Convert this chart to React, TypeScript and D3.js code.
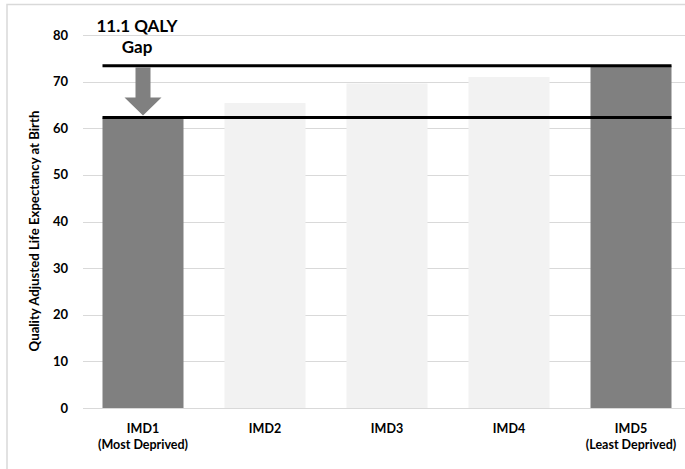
import React, { useRef, useEffect } from "react";
import * as d3 from "d3";

const categories = ["IMD1", "IMD2", "IMD3", "IMD4", "IMD5"];
const subLabels = ["(Most Deprived)", "", "", "", "(Least Deprived)"];
const qale = [62.3, 65.4, 69.6, 71.0, 73.4];
const highlighted = [true, false, false, false, true];
const yTicks = [0, 10, 20, 30, 40, 50, 60, 70, 80];

const W = 685;
const H = 469;
const FONT = "Lato, 'Open Sans', sans-serif";

const App = () => {
  const ref = useRef<SVGSVGElement | null>(null);

  useEffect(() => {
    const svg = d3.select(ref.current);
    svg.selectAll("*").remove();

    const x = d3
      .scaleBand()
      .domain(categories)
      .range([82, 692])
      .paddingInner(0.336)
      .paddingOuter(0.168);
    const y = d3.scaleLinear().domain([0, 80]).range([408, 35]);

    // chart border
    svg
      .append("rect")
      .attr("x", 7)
      .attr("y", 4.5)
      .attr("width", 700)
      .attr("height", 500)
      .attr("fill", "#fff")
      .attr("stroke", "#d9d9d9")
      .attr("stroke-width", 1.5);

    // gridlines
    svg
      .append("g")
      .selectAll("line")
      .data(yTicks)
      .enter()
      .append("line")
      .attr("x1", 83)
      .attr("x2", 692)
      .attr("y1", (d) => Math.round(y(d)) + 0.5)
      .attr("y2", (d) => Math.round(y(d)) + 0.5)
      .attr("stroke", "#d9d9d9")
      .attr("stroke-width", 1.2);

    // y tick labels
    svg
      .append("g")
      .selectAll("text")
      .data(yTicks)
      .enter()
      .append("text")
      .attr("x", 68)
      .attr("y", (d) => y(d))
      .attr("dy", "0.35em")
      .attr("text-anchor", "end")
      .attr("font-family", FONT)
      .attr("font-weight", "bold")
      .attr("font-size", 13)
      .attr("fill", "#000")
      .text((d) => d);

    // y axis title
    svg
      .append("text")
      .attr("transform", "translate(39,231) rotate(-90)")
      .attr("text-anchor", "middle")
      .attr("font-family", FONT)
      .attr("font-weight", "bold")
      .attr("font-size", 13.2)
      .attr("fill", "#000")
      .text("Quality Adjusted Life Expectancy at Birth");

    // bars
    svg
      .append("g")
      .selectAll("rect")
      .data(categories)
      .enter()
      .append("rect")
      .attr("x", (d) => x(d)!)
      .attr("width", x.bandwidth())
      .attr("y", (d, i) => y(qale[i]))
      .attr("height", (d, i) => y(0) - y(qale[i]))
      .attr("fill", (d, i) => (highlighted[i] ? "#808080" : "#f2f2f2"));

    // x labels
    const xl = svg
      .append("g")
      .selectAll("g")
      .data(categories)
      .enter()
      .append("g")
      .attr("transform", (d) => `translate(${x(d)! + x.bandwidth() / 2},0)`);
    xl.append("text")
      .attr("y", 433)
      .attr("text-anchor", "middle")
      .attr("font-family", FONT)
      .attr("font-weight", "bold")
      .attr("font-size", 12.5)
      .text((d) => d);
    xl.append("text")
      .attr("y", 449)
      .attr("text-anchor", "middle")
      .attr("font-family", FONT)
      .attr("font-weight", "bold")
      .attr("font-size", 12.5)
      .text((d, i) => subLabels[i]);

    // gap reference lines
    const low = qale[0];
    const high = qale[qale.length - 1];
    const x0 = x(categories[0])!;
    const x1 = x(categories[categories.length - 1])! + x.bandwidth();
    [high, low].forEach((v) => {
      svg
        .append("line")
        .attr("x1", x0)
        .attr("x2", x1)
        .attr("y1", y(v))
        .attr("y2", y(v))
        .attr("stroke", "#000")
        .attr("stroke-width", 3);
    });

    // arrow
    const cx = x(categories[0])! + x.bandwidth() / 2;
    const top = y(high) + 1.5;
    const tip = y(low) - 2;
    const headH = 18;
    const shaft = 7.5;
    const head = 18.5;
    const arrow = d3.path();
    arrow.moveTo(cx - shaft, top);
    arrow.lineTo(cx + shaft, top);
    arrow.lineTo(cx + shaft, tip - headH);
    arrow.lineTo(cx + head, tip - headH);
    arrow.lineTo(cx, tip);
    arrow.lineTo(cx - head, tip - headH);
    arrow.lineTo(cx - shaft, tip - headH);
    arrow.closePath();
    svg.append("path").attr("d", arrow.toString()).attr("fill", "#808080");

    // annotation
    const ann = svg
      .append("text")
      .attr("text-anchor", "middle")
      .attr("font-family", FONT)
      .attr("font-weight", "bold")
      .attr("font-size", 17)
      .attr("fill", "#000");
    ann.append("tspan").attr("x", 137).attr("y", 32).text(`${(high - low).toFixed(1)} QALY`);
    ann.append("tspan").attr("x", 137).attr("y", 53).text("Gap");
  }, []);

  return (
    <svg
      ref={ref}
      width={W}
      height={H}
      style={{ position: "absolute", left: 0, top: 0, background: "#fff" }}
    />
  );
};

export default App;
